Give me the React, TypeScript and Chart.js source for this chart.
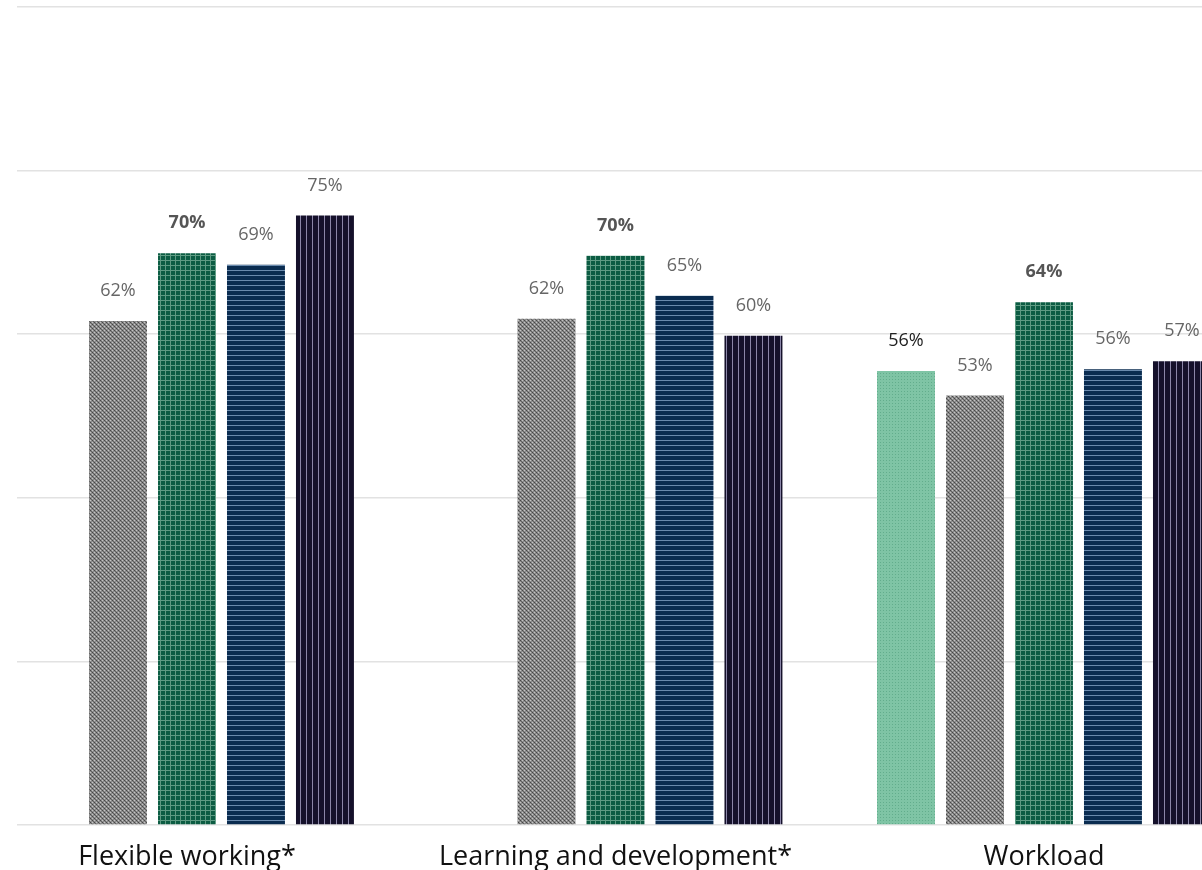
import React, { useEffect, useRef } from "react";
import { Chart, registerables } from "chart.js";

Chart.register(...registerables);

const categories = ["Flexible working*", "Learning and development*", "Workload"];
const seriesNames = ["Series 1", "Series 2", "Series 3", "Series 4", "Series 5"];
const lightGreenValues: (number | null)[] = [null, null, 55.5];
const greyValues: (number | null)[] = [61.6, 61.9, 52.5];
const greenValues: (number | null)[] = [69.9, 69.6, 63.9];
const navyValues: (number | null)[] = [68.5, 64.7, 55.7];
const darkValues: (number | null)[] = [74.5, 59.8, 56.7];
const yTicks = [0, 20, 40, 60, 80, 100];

const FONT = "'Open Sans', 'Noto Sans', sans-serif";
const X_MIN = -0.3967;
const X_MAX = 2.3688;

function makePattern(
  w: number,
  h: number,
  draw: (c: CanvasRenderingContext2D) => void
): CanvasPattern | string {
  const cv = document.createElement("canvas");
  cv.width = w;
  cv.height = h;
  const c = cv.getContext("2d")!;
  draw(c);
  const p = c.createPattern(cv, "repeat");
  return p || "#888";
}

export default function App() {
  const ref = useRef<HTMLCanvasElement | null>(null);

  useEffect(() => {
    if (!ref.current) return;

    const lightGreenPat = makePattern(3, 3, (c) => {
      c.fillStyle = "#7fc4a5";
      c.fillRect(0, 0, 3, 3);
      c.fillStyle = "#62ad8c";
      c.fillRect(1, 1, 1, 1);
    });
    const greyPat = makePattern(4, 4, (c) => {
      c.fillStyle = "#8c8c8c";
      c.fillRect(0, 0, 4, 4);
      c.fillStyle = "#474747";
      c.fillRect(0, 0, 1, 1);
      c.fillRect(2, 2, 1, 1);
      c.fillStyle = "#c4c4c4";
      c.fillRect(2, 0, 1, 1);
      c.fillRect(0, 2, 1, 1);
      c.fillStyle = "#636363";
      c.fillRect(1, 1, 1, 1);
      c.fillRect(3, 3, 1, 1);
    });
    const greenPat = makePattern(5, 5, (c) => {
      c.fillStyle = "#0c5c43";
      c.fillRect(0, 0, 5, 5);
      c.fillStyle = "#5f9b83";
      c.fillRect(0, 0, 5, 1);
      c.fillRect(0, 0, 1, 5);
    });
    const navyPat = makePattern(5, 5, (c) => {
      c.fillStyle = "#0a2c50";
      c.fillRect(0, 0, 5, 5);
      c.fillStyle = "#6a8aad";
      c.fillRect(0, 0, 5, 1);
    });
    const darkPat = makePattern(6, 6, (c) => {
      c.fillStyle = "#15112b";
      c.fillRect(0, 0, 6, 6);
      c.fillStyle = "#8b86a8";
      c.fillRect(0, 0, 1, 6);
    });

    const seriesValues = [lightGreenValues, greyValues, greenValues, navyValues, darkValues];
    const fills = [lightGreenPat, greyPat, greenPat, navyPat, darkPat];
    const labelColors = ["#222222", "#666666", "#555555", "#666666", "#666666"];
    const labelWeights = ["400", "400", "700", "400", "400"];

    const valueLabels = {
      id: "valueLabels",
      afterDatasetsDraw(chart: any) {
        const ctx = chart.ctx as CanvasRenderingContext2D;
        ctx.save();
        seriesValues.forEach((vals, di) => {
          const meta = chart.getDatasetMeta(di);
          meta.data.forEach((el: any, i: number) => {
            const v = vals[i];
            if (v == null) return;
            ctx.font = `${labelWeights[di]} 18px ${FONT}`;
            ctx.fillStyle = labelColors[di];
            ctx.textAlign = "center";
            ctx.textBaseline = "middle";
            ctx.fillText(`${Math.round(v)}%`, el.x, el.y - 30);
          });
        });
        ctx.restore();
      },
    };

    const chart = new Chart(ref.current, {
      type: "bar",
      data: {
        datasets: seriesValues.map((vals, di) => ({
          label: seriesNames[di],
          data: vals.map((v, i) => ({ x: i, y: v })) as any,
          backgroundColor: fills[di] as any,
          borderWidth: 0,
          categoryPercentage: 0.805,
          barPercentage: 0.84,
        })),
      },
      options: {
        responsive: false,
        animation: false,
        layout: { padding: { left: 17, top: 7, right: 0, bottom: 0 } },
        plugins: {
          legend: { display: false },
          tooltip: { enabled: false },
        },
        scales: {
          x: {
            type: "linear",
            min: X_MIN,
            max: X_MAX,
            offset: false,
            bounds: "data",
            grid: { display: false, offset: false },
            border: { display: false },
            afterDataLimits: (s: any) => {
              s.min = X_MIN;
              s.max = X_MAX;
            },
            afterBuildTicks: (s: any) => {
              s.ticks = categories.map((_, i) => ({ value: i }));
            },
            afterFit: (s: any) => {
              s.height = 45;
            },
            ticks: {
              autoSkip: false,
              maxRotation: 0,
              padding: 8,
              color: "#111111",
              font: { family: FONT, size: 27 },
              callback: (v: any) => categories[Math.round(Number(v))] ?? "",
            },
          },
          y: {
            type: "linear",
            min: yTicks[0],
            max: yTicks[yTicks.length - 1],
            afterBuildTicks: (s: any) => {
              s.ticks = yTicks.map((v) => ({ value: v }));
            },
            afterFit: (s: any) => {
              s.width = 0;
            },
            ticks: { display: false },
            grid: { color: "#e2e2e2", lineWidth: 1.5, drawTicks: false },
            border: { display: false },
          },
        },
      },
      plugins: [valueLabels],
    });

    return () => chart.destroy();
  }, []);

  return (
    <div style={{ position: "fixed", left: 0, top: 0, width: 1202, height: 870, background: "#fff" }}>
      <canvas ref={ref} width={1202} height={870} style={{ display: "block" }} />
    </div>
  );
}
